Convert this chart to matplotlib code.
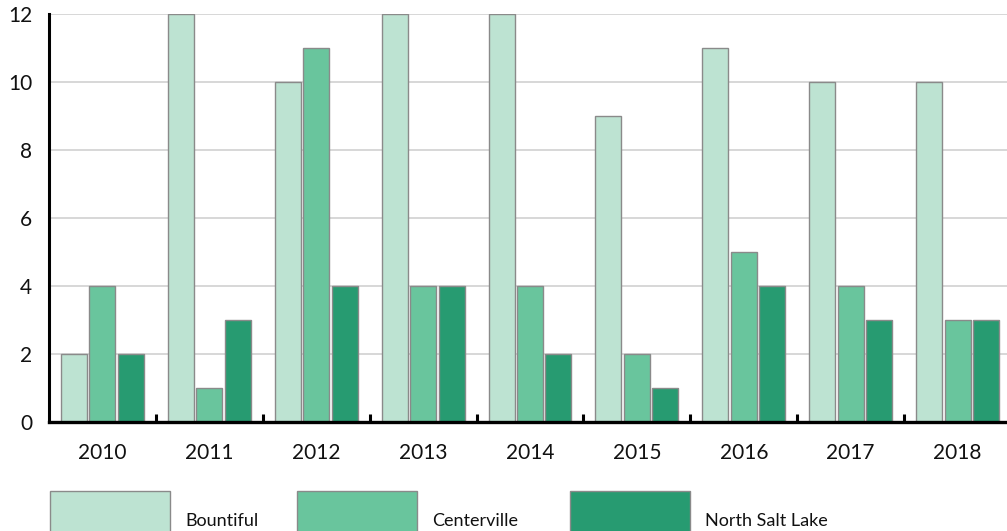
import numpy as np
import matplotlib.pyplot as plt
from matplotlib.patches import Rectangle

years = ["2010", "2011", "2012", "2013", "2014", "2015", "2016", "2017", "2018"]
bountiful = [2, 12, 10, 12, 12, 9, 11, 10, 10]
centerville = [4, 1, 11, 4, 4, 2, 5, 4, 3]
north_salt_lake = [2, 3, 4, 4, 2, 1, 4, 3, 3]

series = [("Bountiful", bountiful, "#bde3d2"),
          ("Centerville", centerville, "#69c59d"),
          ("North Salt Lake", north_salt_lake, "#279b71")]

plt.rcParams['font.family'] = ['Lato', 'DejaVu Sans']

W, H = 1007, 531
fig = plt.figure(figsize=(W / 100, H / 100), dpi=100)
ax = fig.add_axes([49 / W, 109 / H, (1011 - 49) / W, 408 / H])

x = np.arange(len(years))
width = 0.243
offsets = [-0.266, 0, 0.266]
for (name, vals, color), off in zip(series, offsets):
    ax.bar(x + off, vals, width, color=color, edgecolor="#8a8a8a", linewidth=1.0, zorder=3)

ax.set_xlim(-0.5, len(years) - 0.5)
ax.set_ylim(0, 12)
ax.set_yticks(range(0, 13, 2))
ax.yaxis.grid(True, color="#d4d4d4", linewidth=1.3, zorder=0)
ax.set_axisbelow(True)

ax.set_xticks(x)
ax.set_xticklabels(years)
ax.set_xticks(x[:-1] + 0.5, minor=True)
ax.tick_params(axis="x", which="major", length=0, labelsize=15, pad=15, colors="#111111")
ax.tick_params(axis="x", which="minor", direction="in", length=6, width=2.2, color="black")
ax.tick_params(axis="y", length=0, labelsize=15, pad=12, colors="#111111")

for side in ("top", "right"):
    ax.spines[side].set_visible(False)
ax.spines["left"].set_linewidth(2.2)
ax.spines["bottom"].set_linewidth(2.4)
ax.spines["left"].set_zorder(4)
ax.spines["bottom"].set_zorder(4)

# legend swatches along the bottom edge
legend_x = [50, 297, 570]
for (name, vals, color), lx in zip(series, legend_x):
    fig.add_artist(Rectangle((lx / W, -10 / H), 120 / W, 50 / H, transform=fig.transFigure,
                             facecolor=color, edgecolor="#8a8a8a", linewidth=1.0, clip_on=False))
    fig.text((lx + 135) / W, 10 / H, name, fontsize=13, color="#111111", va="center", ha="left")

fig.savefig("out.png", dpi=100)
